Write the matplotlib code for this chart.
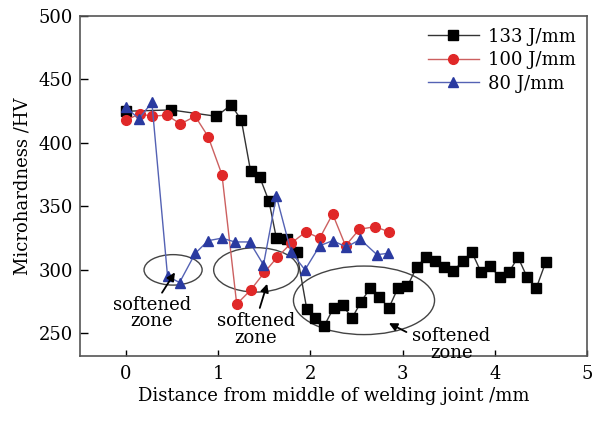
import matplotlib
matplotlib.use("Agg")
import matplotlib.pyplot as plt
from matplotlib.patches import Ellipse

# 133 J/mm
x_133 = [0, 0.49, 0.98, 1.14, 1.25, 1.35, 1.45, 1.55, 1.63, 1.74, 1.85, 1.96, 2.05,
         2.15, 2.25, 2.35, 2.45, 2.55, 2.65, 2.74, 2.85, 2.95, 3.05, 3.15, 3.25,
         3.35, 3.45, 3.55, 3.65, 3.75, 3.85, 3.95, 4.05, 4.15, 4.25, 4.35, 4.45, 4.55]
hv_133 = [425, 426, 421, 430, 418, 378, 373, 354, 325, 324, 314, 269, 262,
          256, 270, 272, 262, 275, 286, 279, 270, 286, 287, 302, 310,
          307, 302, 299, 307, 314, 298, 303, 294, 298, 310, 294, 286, 306]

# 100 J/mm
x_100 = [0, 0.15, 0.28, 0.44, 0.59, 0.75, 0.89, 1.04, 1.2, 1.35, 1.5, 1.64, 1.79,
         1.95, 2.1, 2.24, 2.38, 2.53, 2.7, 2.85]
hv_100 = [418, 423, 421, 422, 415, 421, 405, 375, 273, 284, 298, 310, 321,
          330, 325, 344, 319, 332, 334, 330]

# 80 J/mm
x_80 = [0, 0.14, 0.28, 0.45, 0.58, 0.75, 0.89, 1.04, 1.18, 1.34, 1.49, 1.63, 1.79,
        1.94, 2.1, 2.24, 2.39, 2.54, 2.72, 2.84]
hv_80 = [428, 419, 432, 295, 290, 313, 323, 325, 322, 322, 304, 358, 314,
         300, 319, 323, 318, 324, 312, 313]

labels = ["133 J/mm", "100 J/mm", "80 J/mm"]

# softened zone annotations: ellipse centre, width, height, text pos, arrow tail, arrow head
zones = [
    ((0.51, 300), 0.63, 24, (0.28, 266), (0.39, 282), (0.53, 298)),
    ((1.41, 300), 0.92, 35, (1.41, 253), (1.45, 270), (1.53, 289)),
    ((2.58, 276), 1.53, 54, (3.53, 241), (3.04, 251), (2.85, 258)),
]


def main():
    plt.rcParams['font.family'] = ['DejaVu Serif']
    plt.rcParams['font.size'] = 13
    fig = plt.figure(figsize=(6.01, 4.22), dpi=100)
    ax = fig.add_axes([0.133, 0.156, 0.844, 0.806])

    ax.plot(x_133, hv_133, color='#333333', lw=1.0, marker='s', ms=6.5,
            mfc='black', mec='black', label=labels[0])
    ax.plot(x_100, hv_100, color='#cc6060', lw=1.0, marker='o', ms=7,
            mfc='#e02828', mec='#e02828', label=labels[1])
    ax.plot(x_80, hv_80, color='#5462b4', lw=1.0, marker='^', ms=7.5,
            mfc='#2a3aa0', mec='#2a3aa0', label=labels[2])

    for c, w, h, tpos, tail, head in zones:
        ax.add_patch(Ellipse(c, w, h, fill=False, ec='#444444', lw=1.0))
        ax.text(tpos[0], tpos[1], "softened\nzone", ha='center', va='center',
                linespacing=0.9, fontsize=13)
        ax.annotate("", xy=head, xytext=tail,
                    arrowprops=dict(arrowstyle='-|>', color='black', lw=1.3,
                                    mutation_scale=12, shrinkA=0, shrinkB=0))

    ax.set_xlim(-0.5, 5)
    ax.set_ylim(232, 500)
    ax.set_xticks([0, 1, 2, 3, 4, 5])
    ax.set_yticks([250, 300, 350, 400, 450, 500])
    ax.tick_params(axis='y', direction='in', length=6, width=1, pad=5)
    ax.tick_params(axis='x', direction='in', length=4, width=1, pad=6)
    for s in ax.spines.values():
        s.set_color('#555555')
        s.set_linewidth(1.2)

    ax.set_xlabel("Distance from middle of welding joint /mm", labelpad=3)
    ax.set_ylabel("Microhardness /HV", labelpad=5)

    ax.legend(loc='upper right', frameon=False, handlelength=2.8,
              labelspacing=0.3, borderaxespad=0.25, handletextpad=0.5)

    fig.savefig("out.png", dpi=100)


if __name__ == "__main__":
    main()
